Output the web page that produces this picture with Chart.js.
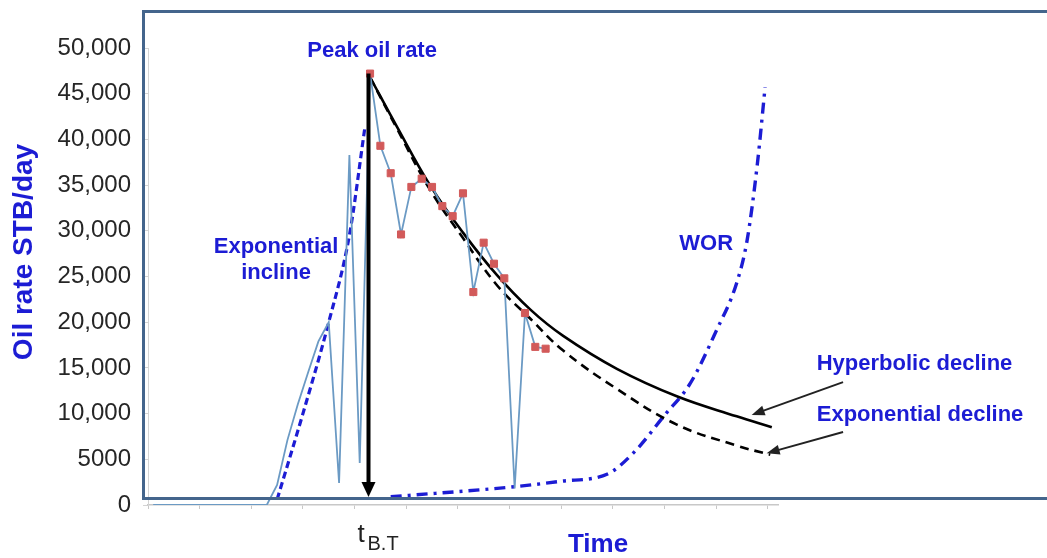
<!DOCTYPE html>
<html>
<head>
<meta charset="utf-8">
<title>Oil rate decline</title>
<script src="https://cdn.jsdelivr.net/npm/chart.js@4.4.1/dist/chart.umd.min.js"></script>
<style>
  html, body { margin: 0; padding: 0; background: #fff; }
  #wrap { width: 1047px; height: 558px; }
</style>
</head>
<body>
<div id="wrap"><canvas id="rateChart" width="1047" height="558"></canvas></div>
<script>
// time is in axis tick units, rates in STB/day
const prodTime = [0.1, 2.3, 2.5, 2.7, 2.9, 3.1, 3.3, 3.5, 3.7, 3.9, 4.1, 4.3, 4.5, 4.7, 4.9, 5.1, 5.3, 5.5, 5.7, 5.9, 6.1, 6.3, 6.5, 6.7, 6.9, 7.1, 7.3, 7.5, 7.7];
const prodRate = [0, 0, 2200, 7100, 11000, 14500, 17900, 20000, 2400, 38300, 4600, 47200, 39300, 36300, 29600, 34800, 35700, 34800, 32700, 31600, 34100, 23300, 28700, 26400, 24800, 1800, 21000, 17300, 17100];
// 1 = point shown with a square marker
const prodMarked = [0, 0, 0, 0, 0, 0, 0, 0, 0, 0, 0, 1, 1, 1, 1, 1, 1, 1, 1, 1, 1, 1, 1, 1, 1, 0, 1, 1, 1];

const inclineTime = [2.5, 3.0, 3.5, 3.9, 4.2];
const inclineRate = [600, 10000, 20000, 29500, 41300];

const hypTime = [4.3, 4.82, 5.46, 6.1, 6.75, 7.4, 8.04, 9.08, 10.24, 11.4, 12.08];
const hypRate = [46800, 41400, 35000, 29800, 25200, 21400, 18500, 14900, 11900, 9700, 8500];

const expTime = [4.3, 4.82, 5.46, 6.1, 6.75, 7.4, 8.04, 9.08, 10.24, 11.4, 12.05];
const expRate = [46800, 41200, 34500, 29200, 24100, 20400, 16900, 12700, 8800, 6500, 5500];

const worTime = [4.7, 7.1, 8.0, 8.9, 9.4, 10.0, 10.5, 11.0, 11.4, 11.6, 11.8, 11.95];
const worRate = [900, 2000, 2600, 3400, 5700, 9800, 13300, 19000, 24300, 28900, 37300, 45700];

const yTicks = [0, 5000, 10000, 15000, 20000, 25000, 30000, 35000, 40000, 45000, 50000];

const breakthroughTime = 4.27;
const peakRate = 47200;

const FONT = '"Liberation Sans", Arial, sans-serif';
const BLUE = '#1c1cd4';

const pts = (xs, ys) => xs.map((t, i) => ({ x: t, y: ys[i] }));

// text labels and arrows, placed in data coordinates
const notes = [
    { text: 'Peak oil rate', x: 4.34, y: 49700, align: 'center' },
    { text: 'Exponential', x: 2.48, y: 28200, align: 'center' },
    { text: 'incline', x: 2.48, y: 25400, align: 'center' },
    { text: 'WOR', x: 10.81, y: 28600, align: 'center' },
    { text: 'Hyperbolic decline', x: 12.95, y: 15400, align: 'left' },
    { text: 'Exponential decline', x: 12.95, y: 9850, align: 'left' },
];
const pointers = [
    { from: [13.46, 13450], to: [11.69, 9850] },
    { from: [13.46, 7990], to: [11.98, 5660] },
];

function arrowHead(ctx, x0, y0, x1, y1, len, half) {
    const a = Math.atan2(y1 - y0, x1 - x0);
    ctx.beginPath();
    ctx.moveTo(x1, y1);
    ctx.lineTo(x1 - len * Math.cos(a) + half * Math.sin(a), y1 - len * Math.sin(a) - half * Math.cos(a));
    ctx.lineTo(x1 - len * Math.cos(a) - half * Math.sin(a), y1 - len * Math.sin(a) + half * Math.cos(a));
    ctx.closePath();
    ctx.fill();
}

const overlay = {
    id: 'overlay',
    afterDatasetsDraw(chart) {
        const { ctx } = chart;
        const xs = chart.scales.x, ys = chart.scales.y;
        ctx.save();

        // frame
        ctx.strokeStyle = '#44658c';
        ctx.lineWidth = 3;
        ctx.strokeRect(143.5, 11.5, 1000, 487);

        // breakthrough arrow
        const bx = xs.getPixelForValue(breakthroughTime);
        const top = ys.getPixelForValue(peakRate);
        const tip = ys.getPixelForValue(0) - 8;
        ctx.strokeStyle = '#000';
        ctx.fillStyle = '#000';
        ctx.lineWidth = 4;
        ctx.beginPath();
        ctx.moveTo(bx, top);
        ctx.lineTo(bx, tip - 12);
        ctx.stroke();
        arrowHead(ctx, bx, top, bx, tip, 15, 7);

        // pointer arrows to the decline curves
        ctx.strokeStyle = '#222';
        ctx.fillStyle = '#222';
        ctx.lineWidth = 2;
        pointers.forEach(p => {
            const x0 = xs.getPixelForValue(p.from[0]), y0 = ys.getPixelForValue(p.from[1]);
            const x1 = xs.getPixelForValue(p.to[0]), y1 = ys.getPixelForValue(p.to[1]);
            ctx.beginPath();
            ctx.moveTo(x0, y0);
            ctx.lineTo(x1 + (x0 - x1) * 0.1, y1 + (y0 - y1) * 0.1);
            ctx.stroke();
            arrowHead(ctx, x0, y0, x1, y1, 13, 5);
        });

        // annotations
        ctx.fillStyle = BLUE;
        ctx.font = 'bold 22px ' + FONT;
        ctx.textBaseline = 'middle';
        notes.forEach(n => {
            ctx.textAlign = n.align;
            ctx.fillText(n.text, xs.getPixelForValue(n.x), ys.getPixelForValue(n.y));
        });

        // axis titles
        ctx.textAlign = 'center';
        ctx.font = 'bold 26px ' + FONT;
        ctx.fillText('Time', 598, 545);
        ctx.save();
        ctx.translate(24, 252);
        ctx.rotate(-Math.PI / 2);
        ctx.font = 'bold 28px ' + FONT;
        ctx.fillText('Oil rate STB/day', 0, 0);
        ctx.restore();

        // t B.T label under the arrow
        ctx.fillStyle = '#222';
        ctx.textAlign = 'left';
        ctx.textBaseline = 'alphabetic';
        ctx.font = '26px ' + FONT;
        ctx.fillText('t', bx - 11, 542);
        ctx.font = '20px ' + FONT;
        ctx.fillText('B.T', bx - 1, 550);

        ctx.restore();
    }
};

new Chart(document.getElementById('rateChart'), {
    type: 'line',
    data: {
        datasets: [
            {
                label: 'Production',
                data: pts(prodTime, prodRate),
                borderColor: '#6b9ac4',
                borderWidth: 1.8,
                tension: 0,
                pointStyle: 'rect',
                pointRadius: prodMarked.map(m => m ? 5 : 0),
                pointBackgroundColor: '#d25a5a',
                pointBorderColor: '#d25a5a',
                pointBorderWidth: 1,
            },
            {
                label: 'Hyperbolic decline',
                data: pts(hypTime, hypRate),
                borderColor: '#000',
                borderWidth: 2.6,
                tension: 0.4,
                pointRadius: 0,
            },
            {
                label: 'Exponential decline',
                data: pts(expTime, expRate),
                borderColor: '#000',
                borderWidth: 2.6,
                borderDash: [9, 6],
                tension: 0.4,
                pointRadius: 0,
            },
            {
                label: 'Exponential incline',
                data: pts(inclineTime, inclineRate),
                borderColor: BLUE,
                borderWidth: 3.2,
                borderDash: [7, 4],
                cubicInterpolationMode: 'monotone',
                pointRadius: 0,
            },
            {
                label: 'WOR',
                data: pts(worTime, worRate),
                borderColor: BLUE,
                borderWidth: 3.4,
                borderDash: [11, 6, 3, 6],
                cubicInterpolationMode: 'monotone',
                pointRadius: 0,
            },
        ]
    },
    options: {
        responsive: false,
        animation: false,
        events: [],
        layout: { padding: { top: 48, right: 269, left: 0, bottom: 0 } },
        plugins: { legend: { display: false }, tooltip: { enabled: false } },
        scales: {
            x: {
                type: 'linear',
                min: 0,
                max: 12.2,
                ticks: { display: false, stepSize: 1, includeBounds: false },
                grid: { drawOnChartArea: false, tickLength: 4, color: '#c8c8c8' },
                border: { color: '#c8c8c8', width: 1.5 },
                afterFit(s) { s.height = 53; }
            },
            y: {
                min: 0,
                max: 50000,
                afterBuildTicks(s) { s.ticks = yTicks.map(v => ({ value: v })); },
                ticks: {
                    color: '#262626',
                    padding: 12,
                    font: { family: FONT, size: 24 },
                    callback: v => v === 5000 ? '5000' : v.toLocaleString('en-US')
                },
                grid: { drawOnChartArea: false, tickLength: 5, color: '#d4d4d4' },
                border: { color: '#d4d4d4' },
                afterFit(s) { s.width = 148; }
            }
        }
    },
    plugins: [overlay]
});
</script>
</body>
</html>
